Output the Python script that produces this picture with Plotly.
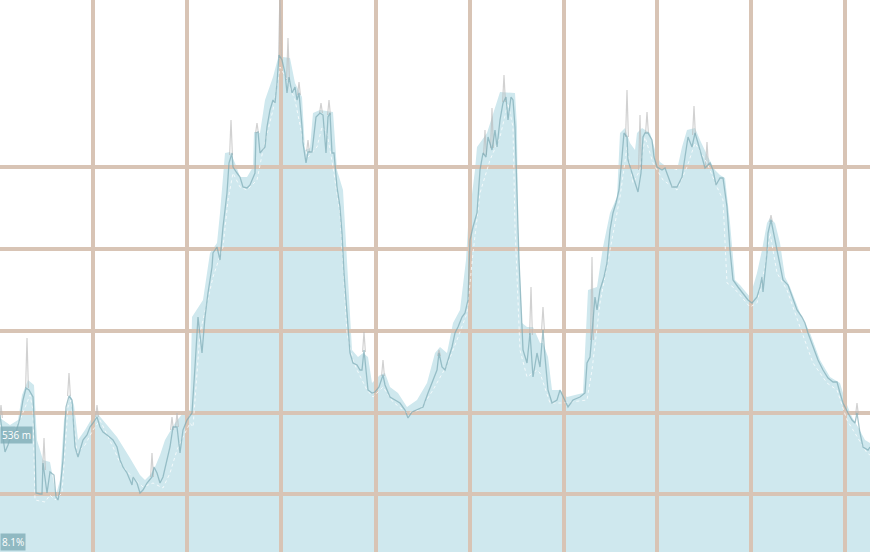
import plotly.graph_objects as go

# distance along route (m) and elevation (m)
fill_dist = [0, 100, 180, 220, 280, 340, 370, 430, 500, 530,
             560, 600, 640, 700, 740, 780, 850, 920, 970, 1070,
             1170, 1300, 1400, 1450, 1500, 1550, 1600, 1650, 1750, 1830,
             1900, 1920, 2030, 2100, 2170, 2200, 2250, 2300, 2350, 2400,
             2470, 2530, 2540, 2600, 2650, 2730, 2780, 2830, 2900, 2950,
             3020, 3050, 3100, 3130, 3200, 3330, 3370, 3430, 3470, 3520,
             3580, 3630, 3680, 3720, 3800, 3850, 3900, 3980, 4070, 4170,
             4270, 4350, 4400, 4470, 4530, 4600, 4660, 4680, 4750, 4770,
             4870, 4970, 5000, 5150, 5170, 5180, 5220, 5270, 5330, 5400,
             5430, 5480, 5520, 5600, 5670, 5830, 5880, 5970, 6030, 6100,
             6170, 6200, 6250, 6300, 6350, 6370, 6420, 6500, 6550, 6600,
             6670, 6770, 6820, 6870, 6950, 7000, 7080, 7150, 7200, 7250,
             7300, 7350, 7400, 7500, 7570, 7620, 7670, 7700, 7750, 7800,
             7850, 7900, 8000, 8100, 8200, 8300, 8400, 8450, 8520, 8580,
             8650, 8700]
fill_elev = [591, 587.5, 590, 602.5, 610, 607.5, 580, 570, 569, 560,
             552.5, 560, 590, 603, 597.5, 580, 585, 591, 593.5, 587.5,
             581.5, 571, 562.5, 560, 562.5, 566.5, 572.5, 580, 588.5, 593.5,
             595, 641.5, 650, 673.5, 678.5, 693.5, 723.5, 724, 718.5, 711.5,
             711.5, 716.5, 734, 733.5, 750, 761.5, 771, 771.5, 771, 758.5,
             751.5, 725, 726, 743.5, 745, 744, 715, 705, 666.5, 625,
             621.5, 623.5, 621.5, 608.5, 612.5, 613.5, 606.5, 603.5, 596.5, 600,
             608.5, 623.5, 626.5, 623.5, 638.5, 645, 670, 686.5, 715, 726.5,
             733.5, 750, 754, 753.5, 736.5, 686.5, 638.5, 636.5, 636.5, 628.5,
             628.5, 621.5, 605, 605, 601.5, 603.5, 655, 656.5, 676.5, 693.5,
             701.5, 733.5, 736, 728.5, 725, 733.5, 736, 733.5, 725, 719,
             716.5, 715, 726.5, 735, 736, 730, 721.5, 715, 712.5, 711,
             688.5, 660, 657.5, 651.5, 663.5, 675, 688.5, 691, 688.5, 678.5,
             661.5, 656.5, 643.5, 633.5, 620, 611.5, 608.5, 600, 591.5, 586.5,
             580, 578.5]

track_dist = [0, 30, 50, 80, 120, 160, 200, 230, 260, 290,
              330, 350, 360, 400, 420, 430, 450, 470, 500, 540,
              560, 580, 600, 630, 660, 690, 720, 750, 780, 800,
              830, 870, 900, 930, 970, 1000, 1030, 1070, 1130, 1170,
              1200, 1230, 1270, 1320, 1330, 1370, 1400, 1430, 1470, 1520,
              1540, 1570, 1600, 1630, 1670, 1700, 1730, 1770, 1800, 1830,
              1870, 1900, 1920, 1950, 1980, 2020, 2050, 2080, 2120, 2130,
              2170, 2200, 2230, 2270, 2290, 2320, 2330, 2370, 2400, 2430,
              2470, 2500, 2550, 2560, 2580, 2600, 2630, 2650, 2670, 2700,
              2730, 2750, 2770, 2790, 2820, 2850, 2870, 2890, 2920, 2950,
              2970, 2990, 3020, 3030, 3060, 3080, 3120, 3130, 3160, 3200,
              3230, 3260, 3280, 3300, 3320, 3340, 3370, 3400, 3420, 3440,
              3470, 3500, 3530, 3570, 3600, 3620, 3640, 3670, 3680, 3720,
              3750, 3790, 3830, 3850, 3900, 3950, 4000, 4050, 4080, 4120,
              4170, 4230, 4280, 4330, 4370, 4390, 4420, 4450, 4480, 4520,
              4550, 4580, 4620, 4650, 4680, 4700, 4730, 4770, 4800, 4830,
              4860, 4880, 4920, 4950, 4970, 5000, 5030, 5060, 5080, 5110,
              5130, 5150, 5170, 5190, 5220, 5230, 5270, 5300, 5330, 5370,
              5400, 5430, 5450, 5480, 5520, 5570, 5600, 5630, 5680, 5730,
              5800, 5850, 5870, 5900, 5930, 5950, 5970, 6000, 6040, 6070,
              6100, 6130, 6160, 6190, 6220, 6240, 6270, 6280, 6320, 6350,
              6380, 6410, 6430, 6450, 6480, 6520, 6540, 6570, 6620, 6650,
              6680, 6720, 6770, 6820, 6850, 6880, 6920, 6950, 6980, 7020,
              7050, 7100, 7130, 7160, 7200, 7230, 7270, 7300, 7330, 7380,
              7430, 7480, 7520, 7570, 7600, 7620, 7630, 7670, 7680, 7710,
              7730, 7770, 7800, 7830, 7880, 7930, 7970, 8020, 8050, 8080,
              8130, 8180, 8230, 8280, 8330, 8370, 8400, 8430, 8480, 8520,
              8550, 8570, 8600, 8630, 8680, 8700]
track_elev = [592.5, 580, 574, 577.5, 584, 584, 591, 600, 606, 605,
              601.5, 580, 553.5, 553, 553, 568.5, 560, 553.5, 564, 562.5,
              551.5, 550, 555, 570, 596.5, 602, 600, 576.5, 571.5, 575,
              580, 582.5, 586.5, 588.5, 591.5, 586.5, 584, 582.5, 580, 576.5,
              570, 566.5, 563.5, 557.5, 561.5, 558.5, 553.5, 555, 558.5, 561.5,
              566.5, 563.5, 558.5, 561.5, 570, 576.5, 586.5, 586.5, 573.5, 585,
              590, 592.5, 593.5, 616.5, 641.5, 623.5, 641.5, 653.5, 666.5, 673.5,
              676.5, 670, 686.5, 703.5, 718.5, 723.5, 716.5, 713.5, 711.5, 706.5,
              706, 707.5, 713.5, 733.5, 734, 723.5, 725, 726.5, 736.5, 745,
              750, 748.5, 758.5, 772.5, 770, 763.5, 753.5, 761.5, 753.5, 756.5,
              750, 753.5, 736.5, 728.5, 718.5, 724, 724, 728.5, 741.5, 743.5,
              742.5, 723.5, 741.5, 743.5, 723.5, 723.5, 706.5, 696.5, 683.5, 663.5,
              641.5, 623.5, 618.5, 617.5, 615, 615, 625, 611, 605, 603.5,
              604, 606.5, 612.5, 607.5, 601.5, 600, 598.5, 595, 591, 594,
              595, 596.5, 603.5, 610, 615, 623.5, 616.5, 615, 620, 626.5,
              633.5, 636.5, 641.5, 643.5, 650, 680, 686.5, 693.5, 715, 723.5,
              721.5, 731.5, 725, 735, 726.5, 740, 748.5, 751.5, 740, 751.5,
              750, 736.5, 703.5, 670, 636.5, 625, 618.5, 633.5, 611.5, 623.5,
              616.5, 635, 621.5, 605, 598.5, 600, 605, 601.5, 596.5, 600,
              601.5, 603.5, 618.5, 621.5, 641.5, 651.5, 645, 655, 661.5, 668.5,
              685, 693.5, 698.5, 705, 721.5, 733.5, 731.5, 720, 713.5, 708.5,
              704, 713.5, 731.5, 733.5, 733.5, 730, 721.5, 716.5, 715, 716,
              711.5, 706.5, 706.5, 711.5, 721.5, 731.5, 726.5, 733.5, 728.5, 721.5,
              716, 718.5, 715, 707.5, 711, 711, 696.5, 675, 660, 656.5,
              653.5, 650, 648.5, 651.5, 656.5, 661.5, 654, 673.5, 683.5, 690,
              685, 675, 666.5, 660, 657.5, 650, 645, 641.5, 638.5, 633.5,
              626.5, 620, 615, 611, 609, 609, 603.5, 598.5, 593.5, 590,
              588.5, 593.5, 583.5, 576.5, 575, 576.5]

smooth_dist = [0, 70, 200, 300, 330, 350, 450, 500, 550, 620,
               680, 710, 770, 850, 930, 1000, 1130, 1200, 1330, 1430,
               1530, 1630, 1700, 1770, 1830, 1900, 1930, 2000, 2130, 2230,
               2280, 2330, 2400, 2470, 2570, 2630, 2730, 2800, 2870, 2950,
               3030, 3080, 3170, 3220, 3270, 3330, 3400, 3470, 3530, 3570,
               3670, 3730, 3830, 3930, 4070, 4200, 4330, 4470, 4570, 4670,
               4730, 4800, 4900, 5000, 5080, 5130, 5150, 5200, 5270, 5370,
               5400, 5500, 5630, 5870, 5920, 6000, 6100, 6200, 6270, 6330,
               6400, 6450, 6530, 6630, 6770, 6870, 6950, 7070, 7170, 7230,
               7270, 7330, 7500, 7570, 7650, 7700, 7770, 7870, 8000, 8130,
               8270, 8370, 8470, 8570, 8670, 8700]
smooth_elev = [587.5, 580, 590, 602.5, 595, 550, 549, 552.5, 550, 553.5,
               596.5, 600, 573.5, 577.5, 585, 590, 576.5, 568.5, 561, 556.5,
               558.5, 556, 563.5, 575, 581.5, 588.5, 586.5, 633.5, 661.5, 676.5,
               700, 713.5, 706.5, 705, 710, 725, 745, 766.5, 760, 750,
               730, 721.5, 726.5, 736.5, 733.5, 716.5, 693.5, 633.5, 620, 615,
               605, 601.5, 606.5, 599, 593.5, 595, 605, 617.5, 630, 643.5,
               673.5, 703.5, 720, 731.5, 748.5, 736.5, 686.5, 625, 611.5, 615,
               613.5, 598.5, 598.5, 600, 615, 648.5, 675, 701.5, 726.5, 708.5,
               715, 731.5, 718.5, 710, 705, 716.5, 728.5, 718.5, 706.5, 700,
               658.5, 656.5, 646.5, 648.5, 666.5, 683.5, 663.5, 655, 636.5, 618.5,
               608.5, 605, 590, 581.5, 573.5, 572.5]

# raw GPS spikes: position, spike top, level of track at that point
spike_dist = [10, 270, 440, 690, 970, 1520, 1720, 1770, 2310, 2570,
              2800, 2880, 2990, 3080, 3210, 3290, 3640, 3830, 4390, 4850,
              4920, 5040, 5310, 5430, 5920, 6270, 6400, 6470, 6940, 7070,
              7710, 8570]
spike_top = [597.5, 631, 581, 613.5, 597.5, 573.5, 591.5, 593.5, 740, 738.5,
             805, 781, 759, 730, 748.5, 750, 634, 620, 625, 735,
             746, 762.5, 656.5, 646.5, 671.5, 755, 742.5, 744, 747, 729,
             692.5, 598.5]
spike_base = [591, 606, 565, 602, 591.5, 561.5, 585, 586.5, 722.5, 733.5,
              771, 760, 752.5, 724, 743.5, 742.5, 624, 612, 622, 722.5,
              726, 749, 632.5, 635, 630, 731.5, 715, 733.5, 732.5, 717.5,
              689, 592.5]

grid_dist = [930, 1870, 2810, 3760, 4700, 5640, 6570, 7510, 8450]
grid_elev = [553, 593.5, 634.5, 675.5, 716.5]

X_RANGE = [0, 8700]
Y_RANGE = [524, 800]
GRID_COLOR = "rgb(216,196,181)"

fig = go.Figure()

fig.add_trace(go.Scatter(
    x=fill_dist, y=fill_elev, mode="lines", fill="tozeroy",
    line=dict(width=0, color="rgba(0,0,0,0)"),
    fillcolor="rgb(207,232,238)", hoverinfo="skip"))

gx, gy = [], []
for d in grid_dist:
    gx += [d, d, None]
    gy += [Y_RANGE[0], Y_RANGE[1], None]
for e in grid_elev:
    gx += [X_RANGE[0], X_RANGE[1], None]
    gy += [e, e, None]
fig.add_trace(go.Scatter(x=gx, y=gy, mode="lines",
                         line=dict(color=GRID_COLOR, width=4), hoverinfo="skip"))

sx, sy = [], []
half = 14
for d, t, b in zip(spike_dist, spike_top, spike_base):
    sx += [d - half, d, d + half, None]
    sy += [b, t, b, None]
fig.add_trace(go.Scatter(x=sx, y=sy, mode="lines",
                         line=dict(color="rgba(185,185,185,0.65)", width=1.2),
                         hoverinfo="skip"))

fig.add_trace(go.Scatter(x=smooth_dist, y=smooth_elev, mode="lines",
                         line=dict(color="rgba(255,255,255,0.95)", width=0.8, dash="dot"),
                         hoverinfo="skip"))

fig.add_trace(go.Scatter(x=track_dist, y=track_elev, mode="lines",
                         line=dict(color="rgba(118,166,177,0.65)", width=1.3),
                         hoverinfo="skip"))

fig.add_annotation(text="536 m", xref="paper", yref="y", x=0.0, y=582.5,
                   xanchor="left", yanchor="middle", showarrow=False,
                   font=dict(family="Open Sans", size=10, color="white"),
                   bgcolor="rgba(128,172,182,0.8)", borderpad=1)
fig.add_annotation(text="8.1%", xref="paper", yref="paper", x=0.0, y=0.0,
                   xanchor="left", yanchor="bottom", yshift=1, showarrow=False,
                   font=dict(family="Open Sans", size=10, color="white"),
                   bgcolor="rgba(128,172,182,0.8)", borderpad=1)

fig.update_layout(
    width=870, height=552, margin=dict(l=0, r=0, t=0, b=0),
    showlegend=False, plot_bgcolor="white", paper_bgcolor="white",
    hovermode=False,
    xaxis=dict(range=X_RANGE, showgrid=False, zeroline=False, showticklabels=False,
               ticks="", showline=False),
    yaxis=dict(range=Y_RANGE, showgrid=False, zeroline=False, showticklabels=False,
               ticks="", showline=False),
)

fig.write_html("out.html", config={"displayModeBar": False},
               post_script="document.body.style.margin='0';document.body.style.overflow='hidden';")
